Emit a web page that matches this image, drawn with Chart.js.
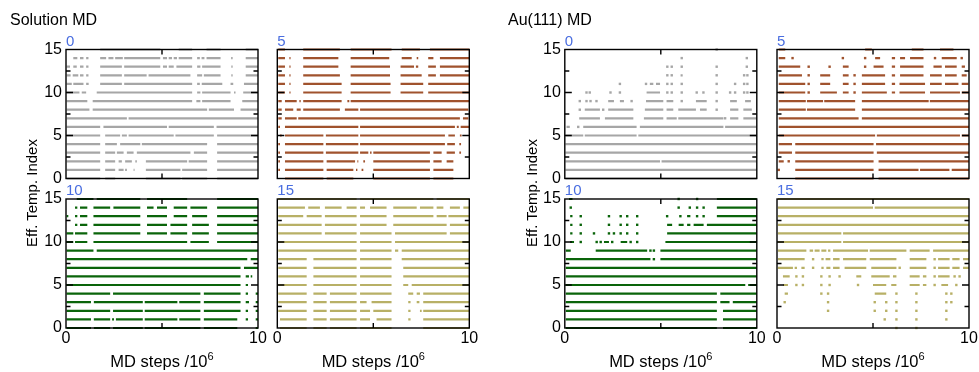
<!DOCTYPE html>
<html>
<head>
<meta charset="utf-8">
<script src="https://cdn.jsdelivr.net/npm/chart.js@4/dist/chart.umd.min.js"></script>
<style>
  html, body { margin: 0; padding: 0; background: #fff; width: 979px; height: 372px; overflow: hidden;
    font-family: "Liberation Sans", Arial, Helvetica, sans-serif; }
  canvas.panel { position: absolute; }
  .txt { position: absolute; line-height: 1; white-space: nowrap; color: #000; }
  .group { font-size: 16px; }
  .rep { font-size: 15px; color: #4a6ee0; }
  .ytitle { font-size: 15px; transform: translate(-50%, -50%) rotate(-90deg); }
  .xtitle { font-size: 16.5px; transform: translateX(-50%); }
  .xtitle sup { font-size: 11px; vertical-align: 0; position: relative; top: -7px; }
</style>
</head>
<body>
<script>
// Runs of occupied effective-temperature indices per replica.
// Index i of each array is temperature index i; every entry is [start, end]
// in units of 10^6 MD steps (start === end marks a single sample).

const solutionRep0 = [
  [[0.03,1.78],[2.04,2.56],[4.16,5.96],[6.05,7.35],[7.87,10]],
  [[0.03,1.78],[2.04,2.56],[2.74,3.0],[3.08,3.17],[3.52,3.57],[4.16,5.96],[6.05,7.35],[7.87,10]],
  [[0.03,1.78],[2.04,2.56],[2.74,2.91],[3.08,3.43],[3.61,3.69],[4.16,6.31],[6.39,7.35],[7.87,10]],
  [[0.03,1.78],[2.04,2.56],[2.65,3.0],[3.17,3.52],[3.69,6.48],[6.66,7.35],[7.87,10]],
  [[0.03,1.78],[2.04,2.65],[2.82,3.87],[3.95,7.35],[7.87,10]],
  [[0.03,1.78],[2.04,2.82],[2.91,3.17],[3.26,5.61],[5.70,7.70],[7.87,10]],
  [[0.03,1.78],[1.95,5.26],[5.35,7.70],[7.84,10]],
  [[0.03,3.17],[3.26,10]],
  [[0.03,1.22],[1.39,7.35],[7.44,8.75],[9.09,10]],
  [[0.03,1.11],[1.39,6.57],[6.79,7.0],[7.09,8.57],[9.18,10]],
  [[0.03,0.70],[0.82,1.05],[1.60,6.57],[6.83,7.0],[7.09,8.57],[8.75,8.83],[9.23,10]],
  [[0.03,0.30],[0.38,0.91],[1.05,1.18],[1.78,2.91],[3.03,6.57],[6.83,6.97],[7.07,8.14],[8.57,8.71],[9.27,10]],
  [[0.03,0.24],[0.35,0.64],[0.73,0.91],[1.05,1.17],[1.78,2.91],[3.03,4.2],[4.3,6.48],[6.83,7.09],[7.18,8.05],[8.61,8.68],[9.36,10]],
  [[0.03,0.21],[0.38,0.56],[0.73,0.91],[1.05,1.17],[1.78,2.91],[3.03,4.91],[5.05,5.26],[5.35,5.61],[5.75,6.57],[6.83,7.0],[7.09,8.05],[8.61,8.68],[9.36,10]],
  [[0.38,0.59],[0.73,0.91],[1.05,1.17],[1.78,2.09],[2.21,2.47],[2.56,2.96],[3.03,4.91],[5.05,5.26],[5.35,5.52],[5.61,5.78],[5.87,6.57],[6.83,6.97],[7.06,7.21],[7.32,8.05],[8.6,8.68],[9.36,10]],
  [[1.78,4.91],[5.87,6.57],[7.32,8.05],[9.36,10]]
];

const solutionRep5 = [
  [[0.40,2.40],[2.57,3.96],[5.0,7.95],[8.13,9.17]],
  [[0.05,0.14],[0.40,2.40],[2.57,3.96],[4.10,4.17],[4.39,4.48],[5.0,7.95],[8.13,9.17]],
  [[0.05,0.14],[0.40,2.40],[2.57,4.05],[4.17,4.22],[4.48,4.57],[5.0,7.95],[8.13,8.56],[8.82,9.17]],
  [[0.05,0.14],[0.40,2.40],[2.53,4.22],[4.31,4.74],[4.83,4.91],[5.0,7.95],[8.13,8.56],[8.82,9.25],[9.48,9.57]],
  [[0.05,0.14],[0.40,2.40],[2.53,4.22],[4.31,8.73],[8.85,9.25],[9.48,9.57]],
  [[0.14,0.23],[0.40,2.40],[2.53,4.22],[4.31,8.73],[8.91,9.25],[9.51,9.60]],
  [[0.05,0.14],[0.40,4.22],[4.31,9.25],[9.35,9.45],[9.55,10]],
  [[0.05,0.23],[0.40,1.01],[1.09,9.51],[9.67,9.95]],
  [[0.05,0.23],[0.40,0.83],[1.01,1.22],[1.35,3.26],[3.52,4.22],[4.31,9.95]],
  [[0.05,0.23],[0.40,1.01],[1.15,1.22],[1.35,3.35],[3.65,3.75],[3.82,10]],
  [[0.05,0.40],[0.63,0.69],[1.35,3.35],[3.82,5.90],[6.42,7.60],[7.86,10]],
  [[0.05,0.40],[0.63,0.69],[1.35,3.35],[3.82,5.90],[6.42,7.60],[7.86,10]],
  [[0.05,0.40],[0.63,0.69],[1.35,3.26],[3.82,5.87],[6.42,7.52],[7.86,8.26],[8.47,10]],
  [[0.05,0.40],[0.63,0.69],[1.35,3.18],[3.82,5.87],[6.42,7.12],[7.22,7.34],[7.86,8.26],[8.47,10]],
  [[0.05,0.40],[0.63,0.69],[1.35,3.18],[3.82,5.83],[6.48,7.0],[7.26,7.34],[7.86,8.13],[8.47,10]],
  [[0.05,0.40],[1.35,3.26],[3.82,5.95],[6.48,7.43],[7.95,10]]
];

const solutionRep10 = [
  [[0.03,1.3],[1.45,2.3],[2.45,4.0],[4.1,7.0],[7.18,8.92],[9.88,10]],
  [[0.03,1.3],[1.45,2.3],[2.4,2.5],[2.6,4.0],[4.1,5.8],[5.9,7.0],[7.18,8.92],[9.36,9.48],[9.88,10]],
  [[0.03,2.3],[2.45,4.0],[4.1,7.0],[7.18,9.09],[9.36,9.48],[9.88,10]],
  [[0.03,1.3],[1.45,4.0],[4.1,5.8],[5.9,7.0],[7.18,9.09],[9.36,9.53],[9.88,10]],
  [[0.03,2.3],[2.45,7.0],[7.18,9.09],[9.36,9.48],[9.88,10]],
  [[0.03,9.09],[9.36,9.48]],
  [[0.03,9.09],[9.36,9.53],[9.62,9.70]],
  [[0.03,9.09],[9.27,10]],
  [[0.03,9.44],[9.62,10]],
  [[0.03,1.43],[1.60,10]],
  [[0.03,0.38],[0.47,1.11],[1.43,6.31],[6.48,7.44],[7.87,10]],
  [[0.03,0.38],[0.47,1.11],[1.43,3.87],[4.22,5.26],[5.44,6.31],[6.57,7.44],[7.87,10]],
  [[0.47,0.59],[0.73,1.11],[1.43,3.87],[4.22,5.26],[5.44,6.31],[6.57,7.44],[7.87,10]],
  [[0.03,0.12],[0.47,0.59],[0.73,1.11],[1.43,3.87],[4.22,5.26],[5.61,6.31],[6.57,7.35],[7.87,10]],
  [[0.47,0.59],[0.73,1.11],[1.43,2.30],[2.47,3.87],[4.22,4.56],[4.74,5.26],[5.61,6.31],[6.48,7.35],[7.87,10]],
  [[0.56,1.43],[1.60,3.87],[4.22,6.31],[7.87,10]]
];

const solutionRep15 = [
  [[0.14,1.53],[1.88,2.57],[2.74,4.13],[4.31,5.95],[7.60,10]],
  [[0.14,1.53],[1.88,2.57],[2.74,4.13],[4.31,4.83],[5.17,5.95],[6.82,6.94],[7.60,10]],
  [[0.05,1.53],[1.88,2.57],[2.74,4.13],[4.31,4.83],[5.0,5.95],[6.82,6.94],[7.43,7.52],[7.60,10]],
  [[0.05,1.53],[1.88,2.57],[2.74,4.13],[4.31,4.65],[4.91,5.95],[6.82,6.94],[7.26,7.40],[7.60,10]],
  [[0.05,1.53],[1.88,2.57],[2.74,4.13],[4.31,5.95],[6.82,7.08],[7.26,7.43],[7.60,10]],
  [[0.05,1.53],[1.88,4.13],[4.31,5.95],[6.56,6.82],[7.0,10]],
  [[0.05,1.53],[1.88,4.13],[4.31,5.95],[6.56,10]],
  [[0.05,1.53],[1.88,4.13],[4.31,5.95],[6.56,10]],
  [[0.05,1.53],[1.88,4.13],[4.31,5.95],[6.48,10]],
  [[0.05,4.13],[4.31,5.95],[6.13,6.30],[6.48,10]],
  [[0.05,4.13],[4.31,5.95],[6.13,10]],
  [[0.05,2.31],[2.48,4.13],[4.31,5.95],[6.13,8.82],[8.99,10]],
  [[0.05,2.31],[2.48,4.13],[4.31,5.69],[6.04,8.82],[8.99,10]],
  [[0.05,1.35],[1.53,2.31],[2.48,4.13],[4.31,5.69],[6.04,8.13],[8.30,8.82],[8.91,10]],
  [[0.05,1.44],[1.61,2.22],[2.48,3.35],[3.61,4.13],[4.31,4.57],[4.83,5.69],[6.04,7.26],[7.43,8.13],[8.30,8.65],[8.99,9.51],[9.69,10]],
  [[0.05,4.13],[4.31,8.13],[8.30,10]]
];

const auRep0 = [
  [[0.03,10]],
  [[0.03,10]],
  [[0.03,4.96],[5.04,10]],
  [[0.03,10]],
  [[0.03,10]],
  [[0.03,0.96],[1.04,3.74],[3.83,10]],
  [[0.09,0.26],[0.70,0.70],[0.96,3.74],[3.91,8.26],[8.35,10]],
  [[0.75,1.83],[2.09,3.57],[4.12,5.13],[5.30,5.83],[5.91,8.26],[8.35,8.35],[8.61,9.04],[9.30,10]],
  [[0.78,0.78],[1.04,1.83],[2.0,2.0],[2.26,3.57],[4.17,5.13],[5.30,5.65],[5.91,6.83],[7.04,7.39],[7.91,7.91],[8.61,9.04],[9.30,9.74]],
  [[0.78,0.78],[1.13,1.13],[1.34,1.34],[1.65,1.65],[2.26,2.56],[2.87,3.08],[3.48,3.48],[4.23,5.13],[5.30,5.65],[6.09,6.09],[6.83,7.39],[7.91,7.91],[8.61,8.96],[9.39,9.69]],
  [[1.13,1.13],[1.30,1.30],[2.38,2.38],[2.87,2.87],[4.26,4.96],[5.34,5.34],[5.57,5.57],[6.09,6.09],[6.87,6.87],[7.22,7.22],[7.91,7.91],[8.61,8.61],[8.87,8.87],[9.34,9.34],[9.51,9.51]],
  [[2.87,2.87],[4.23,4.23],[4.43,4.61],[4.75,4.96],[5.34,5.34],[5.57,5.57],[6.09,6.09],[7.91,7.91],[8.87,8.87],[9.34,9.34],[9.51,9.51]],
  [[5.34,5.34],[5.57,5.57],[6.03,6.14],[7.91,7.91],[9.34,9.34],[9.51,9.51]],
  [[5.34,5.34],[5.57,5.57],[6.09,6.09],[7.91,7.91],[9.48,9.48]],
  [[6.09,6.09],[9.48,9.48]],
  [[7.91,7.91]]
];

const auRep5 = [
  [[0.95,5.03],[5.29,10]],
  [[0.09,0.09],[0.95,5.03],[5.29,7.37],[7.45,8.98],[9.10,10]],
  [[0.09,0.35],[0.61,0.61],[0.95,5.03],[5.29,10]],
  [[0.09,0.78],[0.95,5.03],[5.20,10]],
  [[0.09,0.78],[0.95,5.03],[5.16,10]],
  [[0.09,5.11],[5.20,9.53],[9.62,10]],
  [[0.09,10]],
  [[0.09,4.25],[4.42,10]],
  [[0.09,1.5],[1.56,4.07],[4.42,10]],
  [[0.09,1.5],[1.56,2.4],[2.46,4.07],[4.42,7.9],[7.96,10]],
  [[0.09,1.47],[1.65,1.65],[2.25,3.12],[3.43,3.73],[4.04,4.04],[4.42,5.72],[5.98,6.15],[6.38,7.71],[7.97,9.53],[9.62,10]],
  [[0.09,1.47],[1.65,1.65],[2.25,2.77],[3.43,3.73],[4.04,4.04],[4.42,5.63],[5.98,6.15],[6.38,7.71],[7.97,8.58],[8.75,9.45],[9.62,9.97]],
  [[0.09,1.30],[1.65,1.65],[2.25,2.77],[3.43,3.73],[4.04,4.04],[4.42,5.63],[5.98,6.15],[6.41,7.63],[7.97,8.58],[8.75,9.36],[9.62,9.88]],
  [[0.09,1.21],[1.65,1.65],[2.74,2.74],[3.43,3.73],[4.59,4.59],[5.03,5.55],[5.98,6.15],[6.41,7.63],[8.15,8.58],[8.75,9.36],[9.62,9.79]],
  [[0.09,0.43],[0.81,0.81],[3.43,3.43],[4.59,4.59],[5.11,5.37],[5.98,6.15],[6.41,6.67],[6.93,7.63],[8.23,8.23],[8.58,9.36],[9.62,9.62]],
  [[0.09,0.43],[4.59,4.94],[7.02,7.63],[8.49,9.19]]
];

const auRep10 = [
  [[0.05,7.92],[8.24,10]],
  [[0.05,7.92],[8.24,10]],
  [[0.05,7.92],[8.24,10]],
  [[0.05,7.92],[8.10,8.58],[8.75,10]],
  [[0.05,7.92],[8.10,10]],
  [[0.05,9.40],[9.55,10]],
  [[0.05,10]],
  [[0.05,10]],
  [[0.05,4.46],[4.64,4.64],[4.98,10]],
  [[0.05,0.31],[1.61,4.29],[4.46,4.46],[4.64,4.64],[4.98,10]],
  [[0.28,0.48],[0.83,0.83],[1.66,1.66],[1.87,1.87],[2.04,2.30],[2.47,2.47],[2.91,3.25],[3.43,3.43],[3.77,3.77],[5.24,10]],
  [[0.28,0.40],[0.83,0.83],[1.52,1.52],[2.30,2.30],[2.56,2.56],[2.91,2.91],[3.25,3.25],[3.77,3.77],[5.33,10]],
  [[0.28,0.40],[0.83,0.83],[2.30,2.30],[2.91,2.91],[3.25,3.25],[3.77,3.77],[5.33,5.59],[5.93,6.19],[6.37,6.54],[6.71,7.23],[7.40,10]],
  [[0.28,0.40],[0.83,0.83],[2.30,2.30],[2.91,2.91],[3.25,3.25],[3.77,3.77],[5.33,5.33],[6.02,6.02],[6.37,6.54],[6.89,6.89],[7.23,7.23],[7.92,10]],
  [[0.31,0.31],[5.93,5.93],[6.51,6.51],[6.89,6.89],[7.23,7.23],[7.92,10]],
  [[0.22,0.40],[5.93,5.93],[6.89,6.89],[7.92,10]]
];

const auRep15 = [
  [[6.22,6.22],[7.26,7.26]],
  [[5.61,5.61],[6.22,6.22],[7.26,7.26],[8.82,8.82]],
  [[2.66,2.66],[5.09,5.09],[5.69,5.69],[6.22,6.22],[7.26,7.26],[8.82,8.82]],
  [[0.40,0.40],[2.66,2.66],[5.09,5.09],[5.69,5.69],[6.22,6.22],[7.26,7.26],[8.82,8.82],[9.08,9.08]],
  [[0.40,0.57],[2.31,2.31],[2.66,2.66],[5.09,5.69],[6.22,6.22],[7.26,7.26],[8.82,8.82],[9.08,9.08]],
  [[0.31,0.57],[1.01,1.01],[1.35,1.35],[2.31,2.31],[2.74,2.74],[4.22,4.22],[5.0,5.69],[5.95,6.22],[6.91,7.43],[7.60,7.78],[8.21,8.21],[8.56,8.91],[9.34,9.34]],
  [[0.31,0.66],[1.01,1.01],[1.35,1.35],[2.31,2.31],[2.74,2.74],[3.26,3.26],[4.13,4.39],[4.91,5.87],[6.04,6.22],[6.91,7.43],[7.60,7.78],[8.21,8.21],[8.39,8.99],[9.25,9.25],[9.51,9.51]],
  [[0.05,0.83],[0.92,1.04],[1.27,1.44],[1.88,1.88],[2.31,2.43],[2.57,2.78],[2.92,3.26],[3.52,4.65],[4.91,6.22],[6.39,6.39],[6.91,7.78],[8.21,8.21],[8.39,8.99],[9.13,9.51],[9.69,10]],
  [[0.05,1.44],[1.88,1.88],[2.31,2.43],[2.53,2.78],[2.92,3.26],[3.44,4.65],[4.83,6.22],[6.91,7.78],[8.21,8.21],[8.39,8.99],[9.13,9.51],[9.69,10]],
  [[0.05,1.53],[1.70,1.88],[1.96,2.22],[2.31,2.57],[2.66,2.78],[2.92,4.74],[4.83,6.74],[6.91,7.95],[8.13,10]],
  [[0.05,3.35],[3.44,10]],
  [[0.05,3.35],[3.44,10]],
  [[0.05,10]],
  [[0.05,10]],
  [[0.05,5.0],[5.09,10]],
  [[0.05,10]]
];

const replicaLabels = ['0', '5', '10', '15'];
const replicaColors = ['#a6a6a6', '#a0522d', '#0a640a', '#b8b066'];
const groupTitles = ['Solution MD', 'Au(111) MD'];
const yAxisTitle = 'Eff. Temp. Index';
const xAxisTitle = 'MD steps /10';
const xAxisExponent = '6';
const yRange = [0, 15];
const xRange = [0, 10];
const yLabelStep = 5;
const xLabelStep = 10;
const yMajorTicks = [5, 10];
const yMinorTicks = [2.5, 7.5, 12.5];
const xMajorTicks = [5];

// ---- layout (page pixels) ----
const FONT = '"Liberation Sans", Arial, Helvetica, sans-serif';
const PLOT_W = 192, PLOT_H = 129;
const AX_W = 40, AX_H = 46, PAD_T = 22, PAD_R = 14;
const groupCols = [[66, 277.3], [564.8, 777]];
const rowTops = [49.5, 199];
const groupTitleX = [10, 508];
const yTitleX = [30.5, 530.5];
const yTitleY = 192.5;

// frame with inward major/minor tick marks on all four sides
const framePlugin = {
  id: 'boxFrame',
  afterDatasetsDraw(chart) {
    const { ctx, chartArea: a, scales: { x, y } } = chart;
    ctx.save();
    ctx.strokeStyle = '#000';
    ctx.lineWidth = 1.4;
    ctx.strokeRect(a.left, a.top, a.right - a.left, a.bottom - a.top);
    ctx.beginPath();
    const yTick = (v, len) => {
      const p = y.getPixelForValue(v);
      ctx.moveTo(a.left, p); ctx.lineTo(a.left + len, p);
      ctx.moveTo(a.right, p); ctx.lineTo(a.right - len, p);
    };
    yMajorTicks.forEach(v => yTick(v, 7));
    yMinorTicks.forEach(v => yTick(v, 4.5));
    xMajorTicks.forEach(v => {
      const p = x.getPixelForValue(v);
      ctx.moveTo(p, a.bottom); ctx.lineTo(p, a.bottom - 5);
      ctx.moveTo(p, a.top); ctx.lineTo(p, a.top + 5);
    });
    ctx.stroke();
    ctx.restore();
  }
};

function addText(cls, text, left, top) {
  const d = document.createElement('div');
  d.className = 'txt ' + cls;
  d.textContent = text;
  d.style.left = left + 'px';
  d.style.top = top + 'px';
  document.body.appendChild(d);
  return d;
}

function buildDatasets(levels, color) {
  const runs = [], samples = [];
  levels.forEach((list, level) => {
    list.forEach(([a, b]) => {
      if (b - a < 0.02) samples.push({ x: a, y: level });
      else runs.push({ x: a, y: level }, { x: b, y: level }, { x: b, y: null });
    });
  });
  return [
    { data: runs, showLine: true, spanGaps: false, borderColor: color, borderWidth: 2.2,
      borderCapStyle: 'butt', pointRadius: 0, clip: false },
    { data: samples, showLine: false, pointStyle: 'rect', pointRadius: 1.7,
      backgroundColor: color, borderWidth: 0, clip: false }
  ];
}

function makePanel(levels, color, label, plotLeft, plotTop, showY, showX) {
  const cLeft = Math.floor(plotLeft) - AX_W;
  const cTop = Math.floor(plotTop) - PAD_T;
  const axW = plotLeft - cLeft;
  const padT = plotTop - cTop;
  const W = AX_W + PLOT_W + PAD_R + 1, H = PAD_T + PLOT_H + AX_H + 1;
  const cv = document.createElement('canvas');
  cv.className = 'panel';
  cv.width = W; cv.height = H;
  cv.style.left = cLeft + 'px'; cv.style.top = cTop + 'px';
  cv.style.width = W + 'px'; cv.style.height = H + 'px';
  document.body.appendChild(cv);

  const tickFont = { family: FONT, size: 16 };
  new Chart(cv, {
    type: 'scatter',
    data: { datasets: buildDatasets(levels, color) },
    options: {
      responsive: false, animation: false, devicePixelRatio: 1, events: [],
      layout: { padding: { top: padT, right: W - axW - PLOT_W, left: 0, bottom: 0 } },
      plugins: { legend: { display: false }, tooltip: { enabled: false } },
      scales: {
        x: {
          type: 'linear', min: xRange[0], max: xRange[1],
          grid: { display: false, drawTicks: false }, border: { display: false },
          ticks: { display: showX, stepSize: xLabelStep, padding: 1, maxRotation: 0,
                   autoSkip: false, font: tickFont, color: '#000' },
          afterFit(s) { s.height = H - padT - PLOT_H; }
        },
        y: {
          type: 'linear', min: yRange[0], max: yRange[1],
          grid: { display: false, drawTicks: false }, border: { display: false },
          ticks: { display: showY, stepSize: yLabelStep, padding: 4, autoSkip: false,
                   font: tickFont, color: '#000' },
          afterFit(s) { s.width = axW; }
        }
      }
    },
    plugins: [framePlugin]
  });

  addText('rep', label, plotLeft, plotTop - 17);
}

const groups = [
  [solutionRep0, solutionRep5, solutionRep10, solutionRep15],
  [auRep0, auRep5, auRep10, auRep15]
];

groups.forEach((reps, g) => {
  const cols = groupCols[g];
  reps.forEach((levels, i) => {
    const col = i % 2, row = Math.floor(i / 2);
    makePanel(levels, replicaColors[i], replicaLabels[i], cols[col], rowTops[row],
              col === 0, row === 1);
  });
  addText('group', groupTitles[g], groupTitleX[g], 12);
  addText('ytitle', yAxisTitle, yTitleX[g], yTitleY);
  cols.forEach(c => {
    const d = addText('xtitle', xAxisTitle, c + PLOT_W / 2, 353);
    const s = document.createElement('sup');
    s.textContent = xAxisExponent;
    d.appendChild(s);
  });
});
</script>
</body>
</html>
